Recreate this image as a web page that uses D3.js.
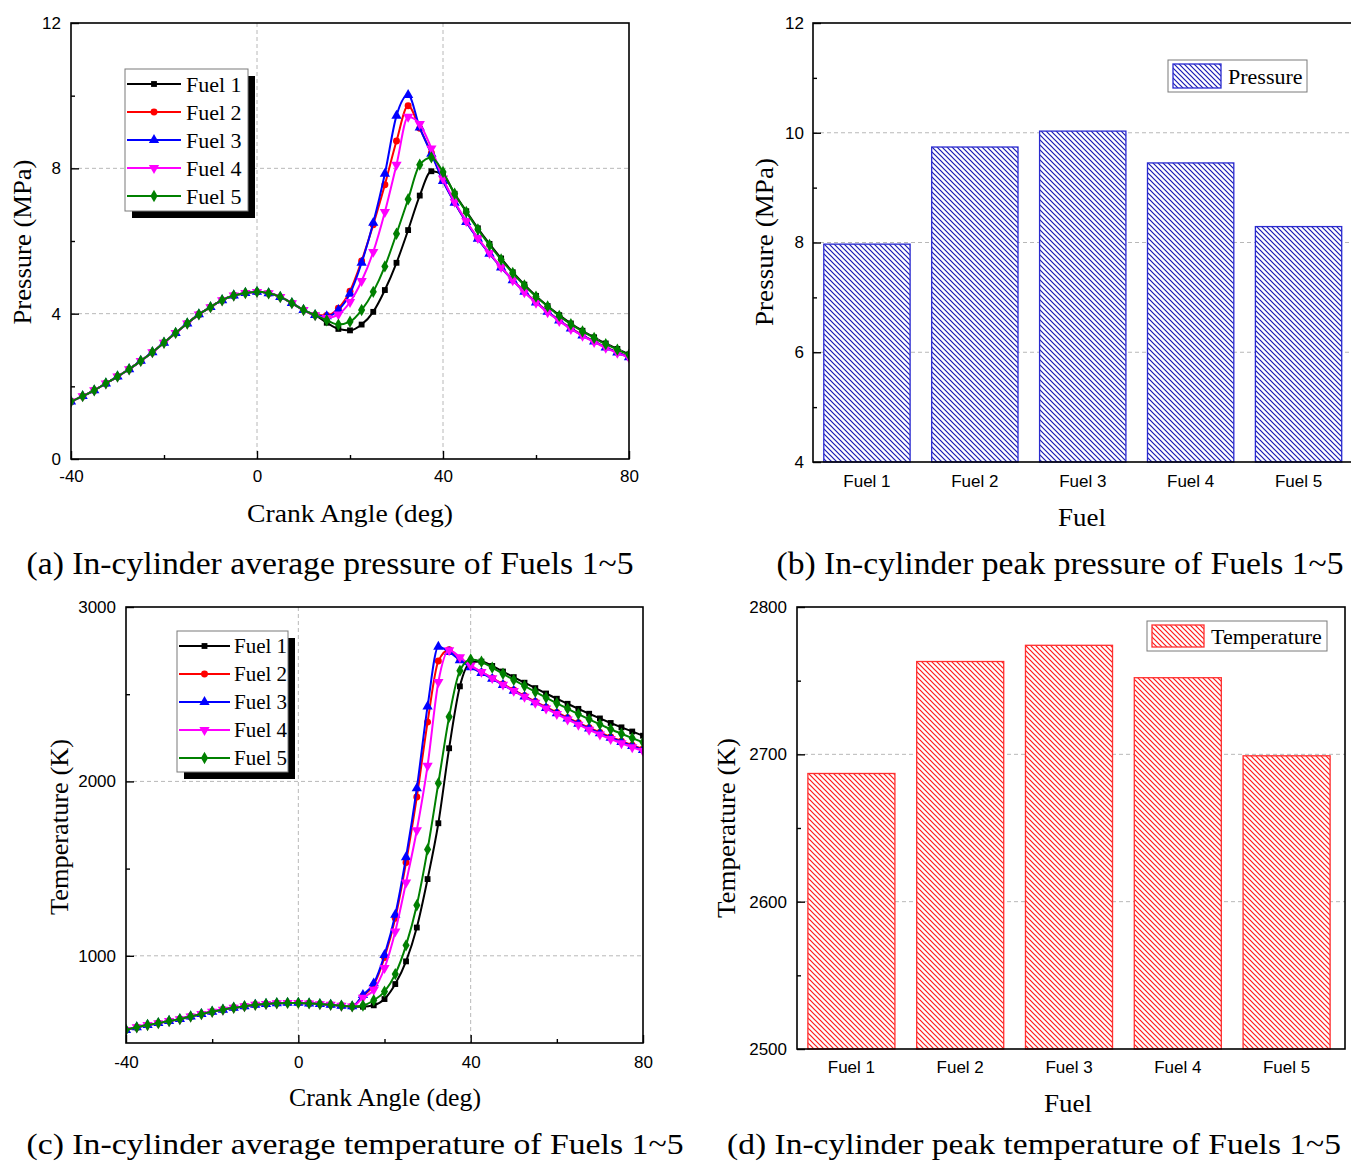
<!DOCTYPE html>
<html>
<head>
<meta charset="utf-8">
<script src="https://cdnjs.cloudflare.com/ajax/libs/d3/7.8.5/d3.min.js"></script>
<style>
  body { margin: 0; background: #fff; }
  svg { display: block; }
</style>
</head>
<body>
<svg id="fig" width="1351" height="1163"></svg>
<script>
"use strict";

// ---------------------------------------------------------------------------
// Four-panel figure: in-cylinder pressure / temperature traces vs crank angle
// (a, c) and the peak values per fuel as hatched bars (b, d).
// ---------------------------------------------------------------------------

const fuels = ["Fuel 1", "Fuel 2", "Fuel 3", "Fuel 4", "Fuel 5"];

// crank angle grid (deg), one marker per point
const angles = [
  -40, -37.5, -35, -32.5, -30, -27.5, -25, -22.5, -20, -17.5, -15, -12.5,
  -10, -7.5, -5, -2.5, 0, 2.5, 5, 7.5, 10, 12.5,
  15, 17.5, 20, 22.5, 25, 27.5, 30, 32.5, 35, 37.5, 40, 42.5, 45, 47.5,
  50, 52.5, 55, 57.5, 60, 62.5, 65, 67.5, 70, 72.5, 75, 77.5, 80,
];

// pressure (MPa): shared compression part (-40 .. 12.5), then per fuel (15 .. 80)
const pCommon = [1.58, 1.73, 1.89, 2.08, 2.27, 2.47, 2.70, 2.94, 3.20, 3.47, 3.73, 3.98,
  4.18, 4.37, 4.50, 4.57, 4.60, 4.56, 4.46, 4.29, 4.10, 3.96];
const pFuel1 = [3.75, 3.58, 3.54, 3.70, 4.05, 4.65, 5.40, 6.30, 7.25, 7.92, 7.82, 7.30, 6.82, 6.35,
  5.92, 5.52, 5.14, 4.80, 4.49, 4.21, 3.96, 3.73, 3.53, 3.35, 3.18, 3.03, 2.88];
const pFuel2 = [3.95, 4.15, 4.62, 5.45, 6.45, 7.55, 8.75, 9.72, 9.10, 8.42, 7.68, 7.06, 6.53, 6.07,
  5.66, 5.28, 4.93, 4.61, 4.32, 4.06, 3.82, 3.60, 3.41, 3.24, 3.08, 2.94, 2.81];
const pFuel3 = [3.93, 4.10, 4.55, 5.40, 6.50, 7.85, 9.45, 10.02, 9.12, 8.40, 7.65, 7.05, 6.52, 6.06,
  5.65, 5.27, 4.92, 4.60, 4.31, 4.05, 3.81, 3.59, 3.40, 3.23, 3.07, 2.93, 2.80];
const pFuel4 = [3.88, 3.98, 4.32, 4.90, 5.70, 6.80, 8.10, 9.42, 9.22, 8.55, 7.72, 7.08, 6.55, 6.08,
  5.67, 5.28, 4.92, 4.59, 4.30, 4.04, 3.80, 3.58, 3.39, 3.22, 3.06, 2.92, 2.79];
const pFuel5 = [3.82, 3.70, 3.78, 4.10, 4.60, 5.30, 6.20, 7.15, 8.10, 8.30, 7.90, 7.30, 6.80, 6.32,
  5.89, 5.49, 5.12, 4.78, 4.47, 4.20, 3.94, 3.71, 3.51, 3.33, 3.16, 3.01, 2.87];

// temperature (K): shared part, then per fuel
const tCommon = [575, 590, 603, 614, 626, 637, 652, 666, 679, 691, 702, 711,
  719, 724, 728, 730, 730, 727, 723, 719, 714, 710];
const tFuel1 = [708, 716, 752, 838, 968, 1162, 1440, 1760, 2190, 2545, 2680, 2687, 2662, 2630,
  2598, 2566, 2535, 2504, 2474, 2445, 2416, 2388, 2361, 2335, 2310, 2286, 2262];
const tFuel2 = [770, 832, 990, 1215, 1535, 1910, 2340, 2690, 2755, 2702, 2660, 2627, 2593, 2558,
  2524, 2491, 2458, 2426, 2395, 2365, 2336, 2308, 2281, 2255, 2231, 2208, 2186];
const tFuel3 = [775, 842, 1005, 1235, 1565, 1960, 2430, 2772, 2742, 2695, 2655, 2622, 2588, 2553,
  2519, 2486, 2453, 2421, 2390, 2360, 2331, 2303, 2276, 2250, 2226, 2203, 2180];
const tFuel4 = [760, 805, 930, 1140, 1420, 1720, 2090, 2570, 2752, 2712, 2664, 2628, 2592, 2555,
  2519, 2485, 2451, 2418, 2386, 2355, 2325, 2296, 2269, 2243, 2219, 2196, 2174];
const tFuel5 = [715, 745, 795, 895, 1060, 1290, 1610, 1990, 2370, 2635, 2699, 2686, 2652, 2617,
  2582, 2547, 2513, 2480, 2448, 2417, 2386, 2356, 2327, 2299, 2273, 2248, 2224];

// peak values per fuel
const peakPressure = [7.97, 9.74, 10.03, 9.45, 8.29];
const peakTemperature = [2687, 2763, 2774, 2752, 2699];

// axis ticks
const angleMajor = [-40, 0, 40, 80];
const angleMinor = [-20, 20, 60];
const pMajor = [0, 4, 8, 12], pMinor = [2, 6, 10];
const tMajor = [1000, 2000, 3000], tMinor = [1500, 2500];
const pbMajor = [4, 6, 8, 10, 12], pbMinor = [5, 7, 9, 11];
const tbMajor = [2500, 2600, 2700, 2800], tbMinor = [2550, 2650, 2750];

// ---------------------------------------------------------------------------

const SERIF = "'Liberation Serif','Times New Roman',serif";
const SANS = "'Liberation Sans',Arial,sans-serif";
const lineColors = ["#000000", "#ff0000", "#0000ff", "#ff00ff", "#008000"];
const symbolPath = [
  d3.symbol(d3.symbolSquare, 34)(),
  d3.symbol(d3.symbolCircle, 38)(),
  d3.symbol(d3.symbolTriangle, 46)(),
  d3.symbol(d3.symbolTriangle, 46)(), // drawn rotated
  d3.symbol(d3.symbolDiamond, 44)(),
];

const svg = d3.select("#fig");
const defs = svg.append("defs");

function hatch(id, color) {
  const p = defs.append("pattern")
    .attr("id", id)
    .attr("patternUnits", "userSpaceOnUse")
    .attr("width", 5).attr("height", 5);
  p.append("rect").attr("width", 5).attr("height", 5).attr("fill", "#fff");
  p.append("path")
    .attr("d", "M0,0L5,5M-1,4L1,6M4,-1L6,1")
    .attr("stroke", color).attr("stroke-width", 1.2);
}
hatch("hatch-blue", "#1a1ab4");
hatch("hatch-red", "#ff1a1a");

const full = (common, tail) => common.concat(tail);

function styleAxis(sel) {
  sel.select(".domain").remove();
  sel.selectAll(".tick line").attr("stroke", "#000").attr("stroke-width", 1.4);
  sel.selectAll(".tick text")
    .attr("fill", "#000")
    .style("font-family", SANS)
    .style("font-size", "17px");
}

function addText(txt, x, y, size, len, rotate) {
  const t = svg.append("text")
    .attr("x", x).attr("y", y)
    .attr("text-anchor", "middle")
    .style("font-family", SERIF)
    .style("font-size", size + "px")
    .attr("fill", "#000")
    .text(txt);
  if (len) t.attr("textLength", len).attr("lengthAdjust", "spacingAndGlyphs");
  if (rotate) t.attr("transform", `rotate(-90,${x},${y})`);
  return t;
}

function frame(l, t, r, b) {
  svg.append("rect")
    .attr("x", l).attr("y", t).attr("width", r - l).attr("height", b - t)
    .attr("fill", "none").attr("stroke", "#000").attr("stroke-width", 1.6);
}

function dashed(g, lines) {
  g.selectAll(null).data(lines).join("line")
    .attr("x1", (d) => d[0]).attr("y1", (d) => d[1])
    .attr("x2", (d) => d[2]).attr("y2", (d) => d[3])
    .attr("stroke", "#b8b8b8").attr("stroke-width", 1).attr("stroke-dasharray", "4,3");
}

// ---- line panels ----------------------------------------------------------
function linePanel(o) {
  const x = d3.scaleLinear().domain([-40, 80]).range([o.left, o.right]);
  const y = d3.scaleLinear().domain(o.yDomain).range([o.bottom, o.top]);
  const g = svg.append("g");

  dashed(g, [
    ...o.gridX.map((v) => [x(v), o.top, x(v), o.bottom]),
    ...o.gridY.map((v) => [o.left, y(v), o.right, y(v)]),
  ]);

  const clipId = "clip-" + o.id;
  defs.append("clipPath").attr("id", clipId).append("rect")
    .attr("x", o.left).attr("y", o.top)
    .attr("width", o.right - o.left).attr("height", o.bottom - o.top);

  const plot = g.append("g").attr("clip-path", `url(#${clipId})`);
  const line = d3.line()
    .x((d, i) => x(angles[i]))
    .y((d) => y(d))
    .curve(d3.curveMonotoneX);

  o.series.forEach((s, k) => {
    plot.append("path")
      .attr("d", line(s))
      .attr("fill", "none")
      .attr("stroke", lineColors[k])
      .attr("stroke-width", 2);
    plot.selectAll(null).data(s).join("path")
      .attr("d", symbolPath[k])
      .attr("fill", lineColors[k])
      .attr("transform", (d, i) =>
        `translate(${x(angles[i])},${y(d)})` + (k === 3 ? " rotate(180)" : ""));
  });

  // axes: inward ticks
  g.append("g").attr("transform", `translate(0,${o.bottom})`)
    .call(d3.axisBottom(x).tickValues(angleMajor).tickSize(-8).tickPadding(o.xPad)
      .tickFormat((d) => String(d)))
    .call(styleAxis);
  g.append("g").attr("transform", `translate(0,${o.bottom})`)
    .call(d3.axisBottom(x).tickValues(angleMinor).tickSize(-4).tickFormat(""))
    .call(styleAxis);
  g.append("g").attr("transform", `translate(${o.left},0)`)
    .call(d3.axisLeft(y).tickValues(o.yMajor).tickSize(-8).tickPadding(o.yPad)
      .tickFormat((d) => String(d)))
    .call(styleAxis);
  g.append("g").attr("transform", `translate(${o.left},0)`)
    .call(d3.axisLeft(y).tickValues(o.yMinor).tickSize(-4).tickFormat(""))
    .call(styleAxis);
  frame(o.left, o.top, o.right, o.bottom);

  // legend with drop shadow
  const L = o.legend;
  const lg = svg.append("g");
  lg.append("rect").attr("x", L.x + 7).attr("y", L.y + 7).attr("width", L.w).attr("height", L.h)
    .attr("fill", "#000");
  lg.append("rect").attr("x", L.x).attr("y", L.y).attr("width", L.w).attr("height", L.h)
    .attr("fill", "#fff").attr("stroke", "#7a7a7a").attr("stroke-width", 1);
  fuels.forEach((name, k) => {
    const cy = L.row0 + k * 28;
    lg.append("line").attr("x1", L.x0).attr("x2", L.x1).attr("y1", cy).attr("y2", cy)
      .attr("stroke", lineColors[k]).attr("stroke-width", 2);
    lg.append("path").attr("d", symbolPath[k]).attr("fill", lineColors[k])
      .attr("transform", `translate(${(L.x0 + L.x1) / 2},${cy})` + (k === 3 ? " rotate(180)" : ""));
    lg.append("text").attr("x", L.tx).attr("y", cy).attr("dy", "0.35em")
      .style("font-family", SERIF).style("font-size", L.fs + "px").text(name);
  });
}

// ---- bar panels -----------------------------------------------------------
function barPanel(o) {
  const x = d3.scaleBand().domain(fuels).range([o.left, o.bandRight])
    .paddingInner(0.2).paddingOuter(0.1);
  const y = d3.scaleLinear().domain(o.yDomain).range([o.bottom, o.top]);
  const g = svg.append("g");

  dashed(g, o.gridY.map((v) => [o.left, y(v), o.right, y(v)]));

  g.selectAll(null).data(o.values).join("rect")
    .attr("x", (d, i) => x(fuels[i]))
    .attr("y", (d) => y(d))
    .attr("width", x.bandwidth())
    .attr("height", (d) => o.bottom - y(d))
    .attr("fill", `url(#${o.pattern})`)
    .attr("stroke", o.edge).attr("stroke-width", 1.3);

  g.append("g").attr("transform", `translate(0,${o.bottom})`)
    .call(d3.axisBottom(x).tickSize(0).tickPadding(o.xPad))
    .call(styleAxis);
  g.append("g").attr("transform", `translate(${o.left},0)`)
    .call(d3.axisLeft(y).tickValues(o.yMajor).tickSize(-8).tickPadding(o.yPad)
      .tickFormat((d) => String(d)))
    .call(styleAxis);
  g.append("g").attr("transform", `translate(${o.left},0)`)
    .call(d3.axisLeft(y).tickValues(o.yMinor).tickSize(-4).tickFormat(""))
    .call(styleAxis);
  frame(o.left, o.top, o.right, o.bottom);

  const L = o.legend;
  svg.append("rect").attr("x", L.x).attr("y", L.y).attr("width", L.w).attr("height", L.h)
    .attr("fill", "#fff").attr("stroke", "#7a7a7a").attr("stroke-width", 1);
  svg.append("rect").attr("x", L.x + 5).attr("y", L.y + 4).attr("width", L.sw).attr("height", L.h - 8)
    .attr("fill", `url(#${o.pattern})`).attr("stroke", o.edge).attr("stroke-width", 1.3);
  svg.append("text").attr("x", L.x + L.sw + 12).attr("y", L.y + L.h / 2).attr("dy", "0.35em")
    .style("font-family", SERIF).style("font-size", "22px").text(L.label);
}

// (a) pressure trace
linePanel({
  id: "a", left: 71, right: 629, top: 23, bottom: 459,
  yDomain: [0, 12], yMajor: pMajor, yMinor: pMinor,
  gridX: [0, 40], gridY: [4, 8], xPad: 11, yPad: 10,
  series: [pFuel1, pFuel2, pFuel3, pFuel4, pFuel5].map((t) => full(pCommon, t)),
  legend: { x: 125, y: 69, w: 123, h: 142, row0: 84, x0: 127, x1: 181, tx: 186, fs: 22 },
});
addText("Crank Angle (deg)", 350, 522, 26, 206);
addText("Pressure (MPa)", 31, 242, 26, 165, true);
addText("(a) In-cylinder average pressure of Fuels 1~5", 330, 574, 31, 607);

// (b) peak pressure
barPanel({
  left: 813, right: 1352, bandRight: 1352.5, top: 23, bottom: 462,
  yDomain: [4, 12], yMajor: pbMajor, yMinor: pbMinor, gridY: [6, 8, 10],
  values: peakPressure, pattern: "hatch-blue", edge: "#2a2ad0", xPad: 13, yPad: 9,
  legend: { x: 1168, y: 60, w: 139, h: 32, sw: 48, label: "Pressure" },
});
addText("Fuel", 1082, 526, 26, 48);
addText("Pressure (MPa)", 773, 242, 26, 168, true);
addText("(b) In-cylinder peak pressure of Fuels 1~5", 1060, 574, 31, 567);

// (c) temperature trace
linePanel({
  id: "c", left: 126, right: 643, top: 607, bottom: 1043,
  yDomain: [500, 3000], yMajor: tMajor, yMinor: tMinor,
  gridX: [0, 40], gridY: [1000, 2000], xPad: 13, yPad: 10,
  series: [tFuel1, tFuel2, tFuel3, tFuel4, tFuel5].map((t) => full(tCommon, t)),
  legend: { x: 177, y: 631, w: 111, h: 141, row0: 646, x0: 179, x1: 230, tx: 234, fs: 21 },
});
addText("Crank Angle (deg)", 385, 1106, 26, 192);
addText("Temperature (K)", 68, 827, 26, 176, true);
addText("(c) In-cylinder average temperature of Fuels 1~5", 355, 1154, 30, 657);

// (d) peak temperature
barPanel({
  left: 797, right: 1345, bandRight: 1341, top: 607, bottom: 1049,
  yDomain: [2500, 2800], yMajor: tbMajor, yMinor: tbMinor, gridY: [2600, 2700],
  values: peakTemperature, pattern: "hatch-red", edge: "#ff3030", xPad: 12, yPad: 10,
  legend: { x: 1147, y: 621, w: 180, h: 30, sw: 52, label: "Temperature" },
});
addText("Fuel", 1068, 1112, 26, 48);
addText("Temperature (K)", 735, 828, 26, 180, true);
addText("(d) In-cylinder peak temperature of Fuels 1~5", 1034, 1154, 30, 614);
</script>
</body>
</html>
